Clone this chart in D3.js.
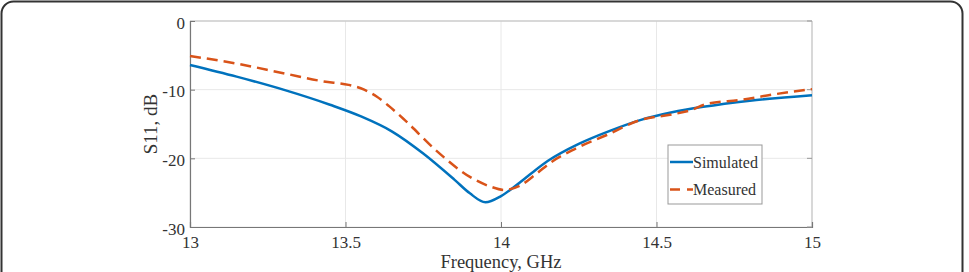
<!DOCTYPE html>
<html>
<head>
<meta charset="utf-8">
<script src="https://cdn.jsdelivr.net/npm/d3@7"></script>
<style>
  body { margin: 0; background: #fff; }
  svg { display: block; }
</style>
</head>
<body>
<svg id="chart" width="969" height="272"></svg>
<script>
// simulated S11 (GHz, dB)
let simFreq = [13.0, 13.15, 13.3, 13.45, 13.55, 13.65, 13.75, 13.85, 13.9, 13.95, 14.0, 14.05, 14.1, 14.15, 14.25, 14.35, 14.45, 14.55, 14.65, 14.8, 15.0];
let simDb = [-6.4, -8.1, -10.0, -12.2, -13.9, -16.1, -19.3, -23.1, -25.1, -26.4, -25.5, -23.9, -22.1, -20.4, -17.9, -16.0, -14.4, -13.3, -12.5, -11.6, -10.8];

// measured S11
let measFreq = [13.0, 13.15, 13.3, 13.43, 13.51, 13.56, 13.6, 13.64, 13.69, 13.79, 13.9, 13.965, 14.01, 14.06, 14.115, 14.16, 14.23, 14.34, 14.45, 14.55, 14.61, 14.66, 14.77, 14.875, 15.0];
let measDb = [-5.1, -6.2, -7.6, -8.8, -9.3, -10.0, -11.0, -12.4, -14.4, -18.8, -22.7, -24.1, -24.6, -24.0, -22.2, -20.6, -18.8, -16.6, -14.4, -13.6, -13.0, -12.1, -11.5, -10.7, -9.9];

let xTicks = [13, 13.5, 14, 14.5, 15];
let yTicks = [0, -10, -20, -30];
let seriesNames = ['Simulated', 'Measured'];

let svg = d3.select('#chart');
let serif = '"Liberation Serif", "Times New Roman", serif';

// outer frame
svg.append('rect')
  .attr('x', 1.5).attr('y', 1.5)
  .attr('width', 961).attr('height', 300)
  .attr('rx', 12)
  .attr('fill', 'none')
  .attr('stroke', '#333')
  .attr('stroke-width', 2);

let plotL = 190, plotR = 812, plotT = 21, plotB = 227;
let xScale = d3.scaleLinear().domain([13, 15]).range([plotL, plotR]);
let yScale = d3.scaleLinear().domain([-30, 0]).range([plotB, plotT]);

// grid
let grid = svg.append('g');
grid.selectAll('.gx').data(xTicks).enter().append('line')
  .attr('x1', d => xScale(d)).attr('x2', d => xScale(d))
  .attr('y1', plotT).attr('y2', plotB)
  .attr('stroke', '#e8e8e8').attr('stroke-width', 1);
grid.selectAll('.gy').data(yTicks).enter().append('line')
  .attr('x1', plotL).attr('x2', plotR)
  .attr('y1', d => yScale(d)).attr('y2', d => yScale(d))
  .attr('stroke', '#e8e8e8').attr('stroke-width', 1);

// box (top / right lighter)
svg.append('line').attr('x1', plotL).attr('x2', plotR).attr('y1', plotT).attr('y2', plotT)
  .attr('stroke', '#bdbdbd').attr('stroke-width', 1);
svg.append('line').attr('x1', plotR).attr('x2', plotR).attr('y1', plotT).attr('y2', plotB)
  .attr('stroke', '#bdbdbd').attr('stroke-width', 1);

// axes, ticks point inward like matlab
let xAxis = d3.axisBottom(xScale).tickValues(xTicks).tickSize(-5).tickPadding(9)
  .tickFormat(d => String(d));
let yAxis = d3.axisLeft(yScale).tickValues(yTicks).tickSize(-5).tickPadding(5)
  .tickFormat(d => String(d));

let xAxisG = svg.append('g').attr('transform', `translate(0,${plotB})`).call(xAxis);
let yAxisG = svg.append('g').attr('transform', `translate(${plotL},0)`).call(yAxis);

[xAxisG, yAxisG].forEach(g => {
  g.select('.domain').attr('stroke', '#777').attr('stroke-width', 1.2);
  g.selectAll('.tick line').attr('stroke', '#777');
  g.selectAll('text')
    .attr('fill', '#333')
    .style('font-family', serif)
    .style('font-size', '17px');
});
yAxisG.selectAll('text').attr('dy', '0.42em');

// right-side ticks
svg.append('g').selectAll('line').data(yTicks).enter().append('line')
  .attr('x1', plotR - 5).attr('x2', plotR)
  .attr('y1', d => yScale(d)).attr('y2', d => yScale(d))
  .attr('stroke', '#999');

// axis titles
svg.append('text')
  .attr('x', (plotL + plotR) / 2).attr('y', 268)
  .attr('text-anchor', 'middle')
  .attr('fill', '#333')
  .style('font-family', serif)
  .style('font-size', '18.5px')
  .text('Frequency, GHz');

svg.append('text')
  .attr('transform', `translate(157,${(plotT + plotB) / 2}) rotate(-90)`)
  .attr('text-anchor', 'middle')
  .attr('fill', '#333')
  .style('font-family', serif)
  .style('font-size', '19px')
  .text('S11, dB');

// curves
let line = d3.line()
  .x(d => xScale(d[0]))
  .y(d => yScale(d[1]))
  .curve(d3.curveMonotoneX);

svg.append('path')
  .datum(simFreq.map((f, i) => [f, simDb[i]]))
  .attr('d', line)
  .attr('fill', 'none')
  .attr('stroke', '#0072BD')
  .attr('stroke-width', 2.5);

svg.append('path')
  .datum(measFreq.map((f, i) => [f, measDb[i]]))
  .attr('d', line)
  .attr('fill', 'none')
  .attr('stroke', '#D95319')
  .attr('stroke-width', 2.5)
  .attr('stroke-dasharray', '11,6');

// legend
let legend = svg.append('g').attr('transform', 'translate(668,145)');
legend.append('rect')
  .attr('width', 94).attr('height', 59)
  .attr('fill', '#fff')
  .attr('stroke', '#999').attr('stroke-width', 1);

let colors = ['#0072BD', '#D95319'];
let dashes = [null, '10,7'];
seriesNames.forEach((name, i) => {
  let y = 17 + i * 27.5;
  legend.append('line')
    .attr('x1', 2).attr('x2', 25)
    .attr('y1', y).attr('y2', y)
    .attr('stroke', colors[i])
    .attr('stroke-width', 2.5)
    .attr('stroke-dasharray', dashes[i]);
  legend.append('text')
    .attr('x', 25).attr('y', y)
    .attr('dy', '0.35em')
    .attr('fill', '#333')
    .style('font-family', serif)
    .style('font-size', '16px')
    .text(name);
});
</script>
</body>
</html>
